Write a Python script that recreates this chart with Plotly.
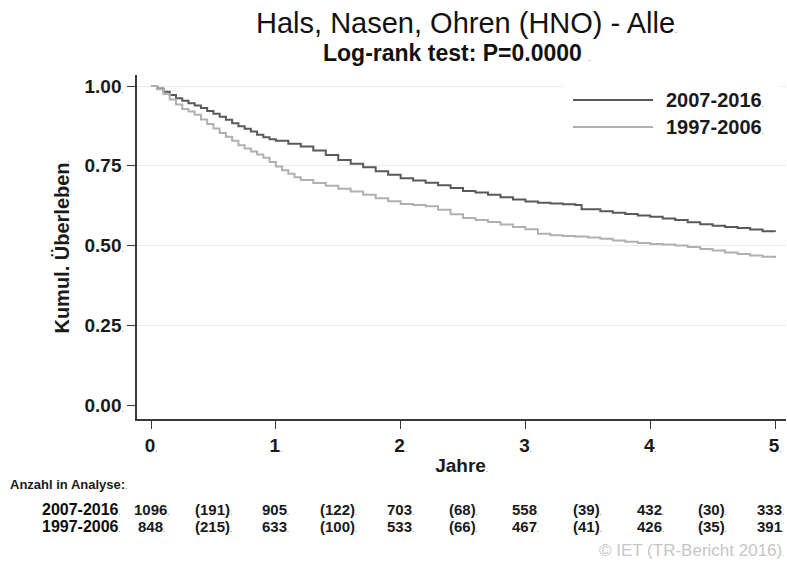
import plotly.graph_objects as go

# Kaplan-Meier estimates (Jahre, kumulatives Ueberleben)
t_2007 = [0.0, 0.05, 0.1, 0.15, 0.2, 0.25, 0.3, 0.35, 0.4, 0.45, 0.5, 0.55, 0.6, 0.65, 0.7,
          0.75, 0.8, 0.85, 0.9, 0.95, 1.0, 1.1, 1.2, 1.3, 1.4, 1.5, 1.6, 1.7, 1.8, 1.9, 2.0,
          2.1, 2.2, 2.3, 2.4, 2.5, 2.6, 2.7, 2.8, 2.9, 3.0, 3.1, 3.2, 3.3, 3.4, 3.45, 3.6,
          3.7, 3.8, 3.9, 4.0, 4.1, 4.2, 4.3, 4.4, 4.5, 4.6, 4.7, 4.8, 4.9, 5.0]
s_2007 = [1.000, 0.992, 0.982, 0.972, 0.962, 0.954, 0.946, 0.939, 0.931, 0.922, 0.913, 0.904,
          0.894, 0.883, 0.874, 0.866, 0.857, 0.847, 0.839, 0.833, 0.828, 0.819, 0.810, 0.798,
          0.784, 0.768, 0.756, 0.745, 0.733, 0.722, 0.711, 0.704, 0.697, 0.689, 0.680, 0.671,
          0.666, 0.659, 0.651, 0.644, 0.638, 0.634, 0.632, 0.629, 0.627, 0.614, 0.607, 0.603,
          0.599, 0.594, 0.590, 0.585, 0.580, 0.573, 0.567, 0.562, 0.558, 0.555, 0.550, 0.545,
          0.543]

t_1997 = [0.0, 0.05, 0.1, 0.15, 0.2, 0.25, 0.3, 0.35, 0.4, 0.45, 0.5, 0.55, 0.6, 0.65, 0.7,
          0.75, 0.8, 0.85, 0.9, 0.95, 1.0, 1.05, 1.1, 1.15, 1.2, 1.3, 1.4, 1.5, 1.6, 1.7, 1.8,
          1.9, 2.0, 2.1, 2.2, 2.3, 2.4, 2.5, 2.6, 2.7, 2.8, 2.9, 3.0, 3.1, 3.2, 3.3, 3.4, 3.5,
          3.6, 3.7, 3.8, 3.9, 4.0, 4.1, 4.2, 4.3, 4.4, 4.5, 4.6, 4.7, 4.8, 4.9, 5.0]
s_1997 = [1.000, 0.990, 0.975, 0.958, 0.942, 0.928, 0.920, 0.910, 0.895, 0.881, 0.867, 0.853,
          0.841, 0.828, 0.814, 0.804, 0.795, 0.785, 0.775, 0.762, 0.748, 0.736, 0.725, 0.714,
          0.705, 0.696, 0.687, 0.678, 0.669, 0.659, 0.648, 0.639, 0.630, 0.627, 0.623, 0.612,
          0.598, 0.586, 0.580, 0.574, 0.566, 0.558, 0.551, 0.537, 0.532, 0.530, 0.528, 0.525,
          0.521, 0.516, 0.512, 0.508, 0.505, 0.503, 0.500, 0.495, 0.489, 0.484, 0.478, 0.473,
          0.469, 0.465, 0.461]

group_names = ["2007-2016", "1997-2006"]
group_colors = ["#595959", "#b0b0b0"]

# Anzahl in Analyse: at risk at full years, censored (in brackets) in between
risk_times = [0, 1, 2, 3, 4, 5]
cens_times = [0.5, 1.5, 2.5, 3.5, 4.5]
at_risk_2007 = [1096, 905, 703, 558, 432, 333]
censored_2007 = [191, 122, 68, 39, 30]
at_risk_1997 = [848, 633, 533, 467, 426, 391]
censored_1997 = [215, 100, 66, 41, 35]

y_ticks = [0.0, 0.25, 0.5, 0.75, 1.0]
y_grid = [0.25, 0.5, 0.75, 1.0]
x_ticks = [0, 1, 2, 3, 4, 5]

FONT = "Liberation Sans, Arial, sans-serif"
DOT = "<span style='font-size:7px'>.</span>"
INK = "#1a1a1a"


def dotted(s, bold=False):
    return (f"<b>{s}</b>" if bold else s) + DOT


fig = go.Figure()
for t, s, name, col in [(t_2007, s_2007, group_names[0], group_colors[0]),
                        (t_1997, s_1997, group_names[1], group_colors[1])]:
    fig.add_trace(go.Scatter(x=t, y=s, mode="lines", name=name,
                             line=dict(color=col, width=2, shape="hv"),
                             showlegend=False, hoverinfo="skip"))

X_RANGE = [-0.1124, 5.0876]
Y_RANGE = [-0.0439, 1.0345]

fig.update_layout(
    width=787, height=566,
    margin=dict(l=137, r=1, t=75, b=147),
    paper_bgcolor="white", plot_bgcolor="white",
    font=dict(family=FONT, color=INK),
    xaxis=dict(range=X_RANGE, tickvals=x_ticks,
               ticktext=[dotted(v, True) for v in x_ticks],
               ticks="outside", ticklen=8, tickwidth=1, tickcolor="#3a3a3a",
               showline=True, linecolor="#3a3a3a", linewidth=1.5,
               showgrid=False, zeroline=False,
               tickfont=dict(size=19),
               title=dict(text=dotted("Jahre", True), font=dict(size=19), standoff=4)),
    yaxis=dict(range=Y_RANGE, tickvals=y_ticks,
               ticktext=[dotted(f"{v:.2f}", True) for v in y_ticks],
               ticks="outside", ticklen=8, tickwidth=1, tickcolor="#3a3a3a",
               showline=True, linecolor="#3a3a3a", linewidth=1.5,
               showgrid=False, zeroline=False,
               tickfont=dict(size=19),
               title=dict(text=dotted("Kumul. Überleben", True), font=dict(size=20), standoff=10)),
    yaxis2=dict(range=Y_RANGE, overlaying="y", tickvals=y_grid, showticklabels=False,
                showgrid=True, gridcolor="#e4edf0", gridwidth=1, ticks="",
                showline=False, zeroline=False),
)
# empty trace that switches on the grid-only axis
fig.add_trace(go.Scatter(x=[None], y=[None], yaxis="y2", showlegend=False, hoverinfo="skip"))

PLOT_TOP, PLOT_BOT = 75, 419


def py(pix):
    return (PLOT_BOT - pix) / (PLOT_BOT - PLOT_TOP)


def px(pix):
    return (pix - 137) / 649


# titles
fig.add_annotation(text=dotted("Hals, Nasen, Ohren (HNO) - Alle"), xref="paper", yref="paper",
                   x=px(466), y=py(23), xanchor="center", yanchor="middle", showarrow=False,
                   font=dict(size=29, color="#111"))
fig.add_annotation(text=dotted("Log-rank test: P=0.0000 ", True), xref="paper", yref="paper",
                   x=px(456), y=py(53), xanchor="center", yanchor="middle", showarrow=False,
                   font=dict(size=23, color="#111"))

# legend box
fig.add_shape(type="rect", xref="paper", yref="paper", x0=px(563), x1=px(780),
              y0=py(142), y1=py(80), fillcolor="white", line=dict(width=0), layer="above")
for i, (name, col) in enumerate(zip(group_names, group_colors)):
    yy = py(100 + 27 * i)
    fig.add_shape(type="line", xref="paper", yref="paper", x0=px(573), x1=px(653),
                  y0=yy, y1=yy, line=dict(color=col, width=2), layer="above")
    fig.add_annotation(text=dotted(name, True), xref="paper", yref="paper", x=px(664), y=yy,
                       xanchor="left", yanchor="middle", showarrow=False,
                       font=dict(size=20, color=INK))

# risk table
fig.add_annotation(text=dotted("Anzahl in Analyse:", True), xref="paper", yref="paper",
                   x=px(8), y=py(485), xanchor="left", yanchor="middle", showarrow=False,
                   font=dict(size=13, color=INK))
rows = [(group_names[0], at_risk_2007, censored_2007, 509),
        (group_names[1], at_risk_1997, censored_1997, 526)]
for name, atr, cen, ypix in rows:
    fig.add_annotation(text=dotted(name, True), xref="paper", yref="paper",
                       x=px(123), y=py(ypix), xanchor="right", yanchor="middle",
                       showarrow=False, font=dict(size=16, color="#0d0d0d"))
    for t, n in zip(risk_times, atr):
        last = t == risk_times[-1]
        fig.add_annotation(text=dotted(str(n), True), xref="paper" if last else "x",
                           yref="paper", x=px(786) if last else t, y=py(ypix),
                           xanchor="right" if last else "center", yanchor="middle",
                           showarrow=False, font=dict(size=15, color=INK))
    for t, n in zip(cens_times, cen):
        fig.add_annotation(text=dotted(f"({n})", True), xref="x", yref="paper", x=t, y=py(ypix),
                           xanchor="center", yanchor="middle", showarrow=False,
                           font=dict(size=15, color=INK))

fig.add_annotation(text="© IET (TR-Bericht 2016)" + DOT, xref="paper", yref="paper",
                   x=px(786), y=py(550), xanchor="right", yanchor="middle", showarrow=False,
                   font=dict(size=17, color="#c6c6c6"))

fig.write_html("out.html", post_script="document.body.style.margin='0';")
